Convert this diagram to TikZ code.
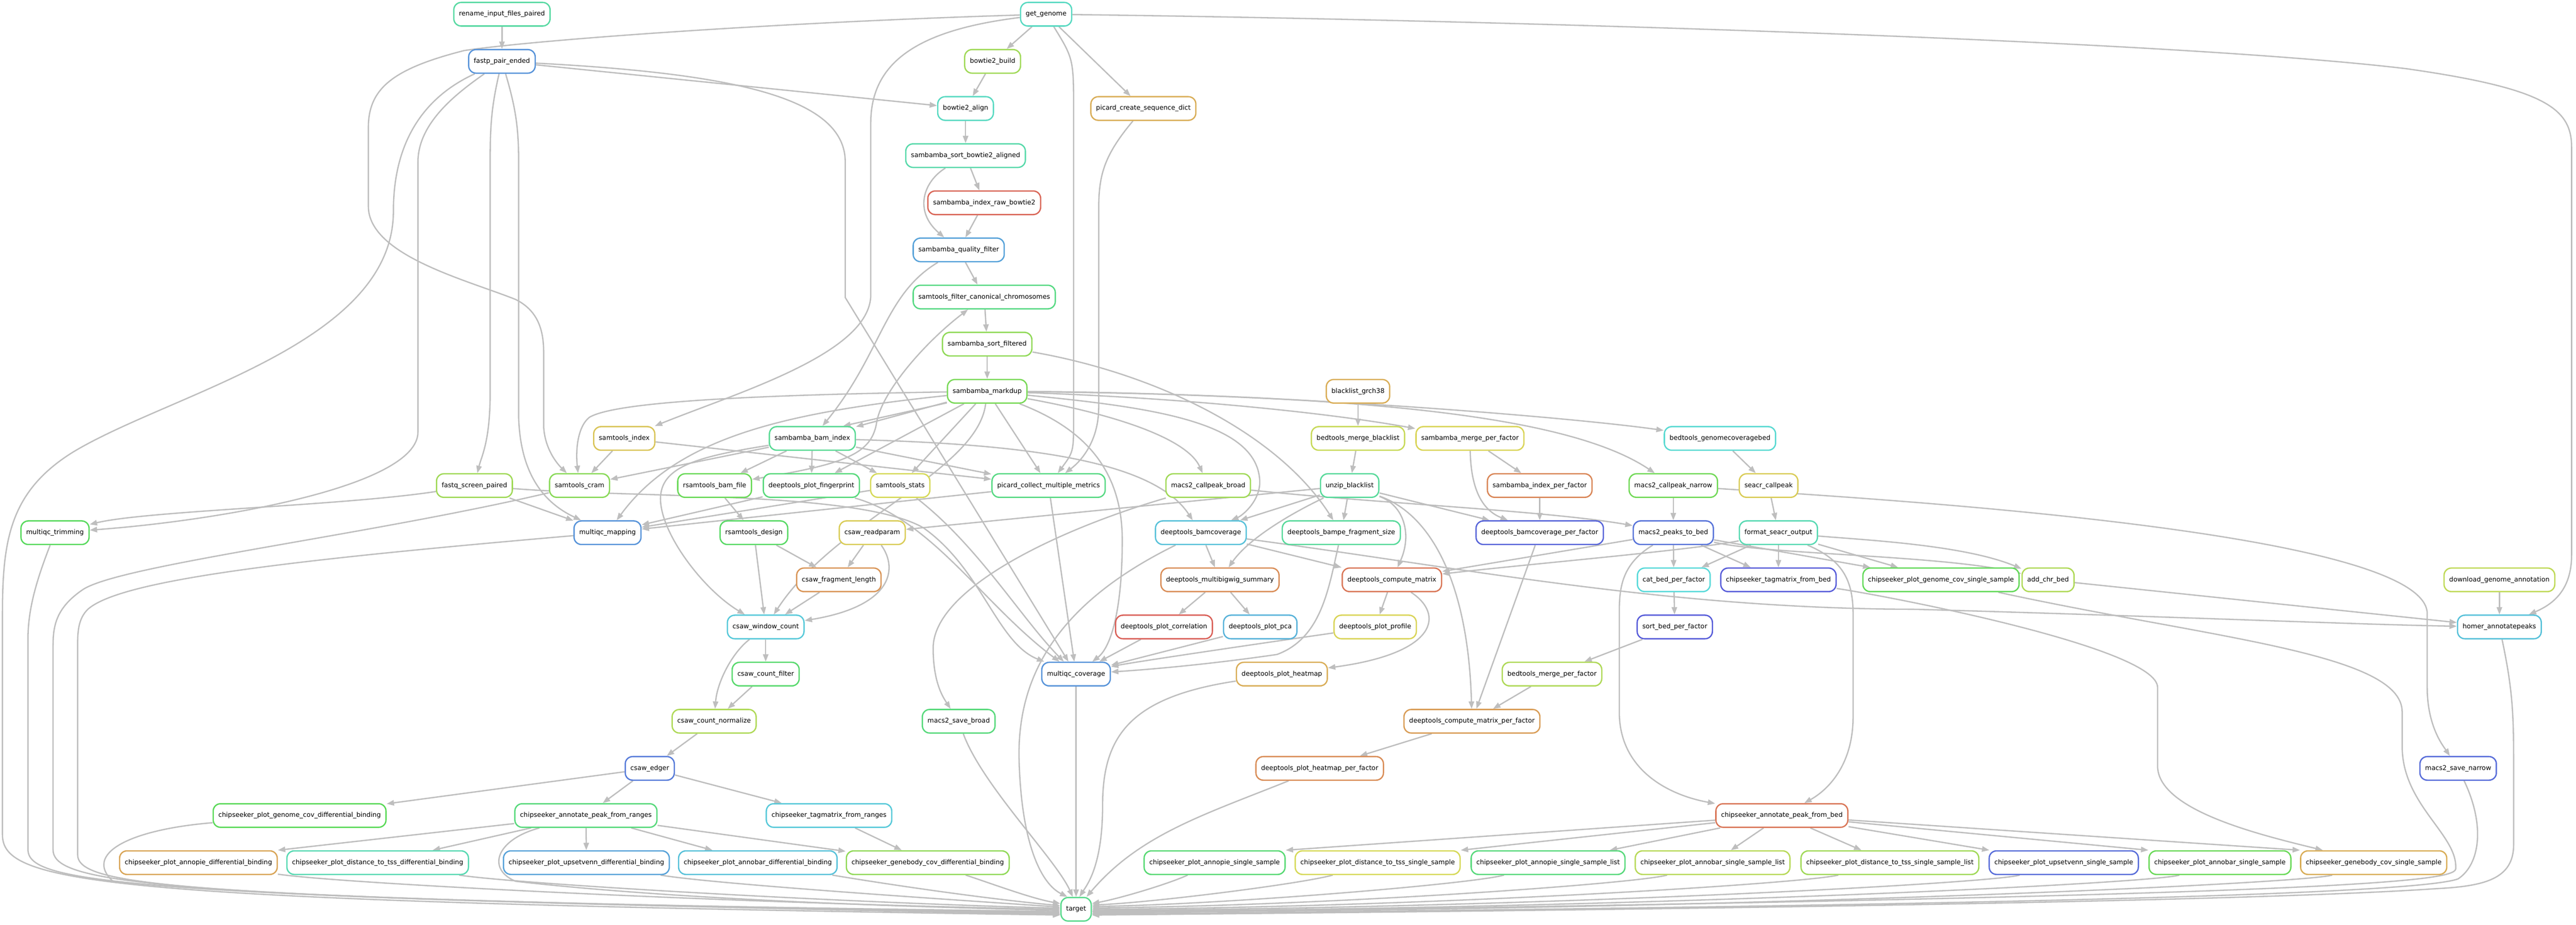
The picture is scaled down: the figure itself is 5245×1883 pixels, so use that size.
\documentclass[tikz,border=0pt]{standalone}
\usepackage{fontspec}
\setmainfont{DejaVu Sans}
\usetikzlibrary{arrows.meta}
\pgfdeclarelayer{bgl}
\pgfdeclarelayer{edl}
\pgfsetlayers{bgl,edl,main}
\definecolor{edgegrey}{RGB}{190,190,190}
\tikzset{
  rb/.style={line width=0.76pt, rounded corners=0.15cm, fill=white, minimum height=0.48cm,
    inner xsep=0.1056cm, inner ysep=0pt, font=\fontsize{3.79pt}{4.5pt}\selectfont, text=black},
  conn/.style={draw=edgegrey, line width=0.76pt, arrows={-Triangle[length=0.15cm,width=0.11cm]}},
  tipboth/.style={draw=edgegrey, line width=0.76pt, arrows={Triangle[length=0.15cm,width=0.11cm]-Triangle[length=0.15cm,width=0.11cm]}}
}
\newcommand{\mknode}[5]{\convertcolorspec{hsb}{#2,0.6,0.85}{rgb}\mkcolspec\definecolor{col#1}{rgb}{\mkcolspec}\node[rb, draw=col#1] (#1) at (#3,#4) {#5};}
\begin{document}
\begin{tikzpicture}[x=0.01cm, y=-0.01cm]
\useasboundingbox (0,0) rectangle (5245,1883);
\begin{pgfonlayer}{bgl}\fill[white] (0,0) rectangle (5245,1883);\end{pgfonlayer}
% row 0-9
\mknode{ren}{0.43}{1022}{29}{rename\_input\_files\_paired}
\mknode{gg}{0.47}{2130}{29}{get\_genome}
\mknode{fastp}{0.59}{1022}{125}{fastp\_pair\_ended}
\mknode{btb}{0.24}{2021}{125}{bowtie2\_build}
\mknode{bta}{0.47}{1966}{221}{bowtie2\_align}
\mknode{pcsd}{0.11}{2328}{221}{picard\_create\_sequence\_dict}
\mknode{ssba}{0.44}{1966}{317}{sambamba\_sort\_bowtie2\_aligned}
\mknode{sirb}{0.02}{2004}{413}{sambamba\_index\_raw\_bowtie2}
\mknode{sqf}{0.57}{1952}{509}{sambamba\_quality\_filter}
\mknode{sfcc}{0.39}{2004}{605}{samtools\_filter\_canonical\_chromosomes}
\mknode{ssf}{0.26}{2010}{701}{sambamba\_sort\_filtered}
\mknode{smd}{0.29}{2010}{797}{sambamba\_markdup}
\mknode{blg}{0.11}{2765}{797}{blacklist\_grch38}
\mknode{sti}{0.14}{1271}{893}{samtools\_index}
\mknode{sbi}{0.41}{1654}{893}{sambamba\_bam\_index}
\mknode{bmb}{0.19}{2765}{893}{bedtools\_merge\_blacklist}
\mknode{smpf}{0.16}{2993}{893}{sambamba\_merge\_per\_factor}
\mknode{bgc}{0.49}{3502}{893}{bedtools\_genomecoveragebed}
% row 10
\mknode{fqs}{0.24}{966}{989}{fastq\_screen\_paired}
\mknode{scram}{0.27}{1180}{989}{samtools\_cram}
\mknode{rbf}{0.31}{1455}{989}{rsamtools\_bam\_file}
\mknode{dpf}{0.38}{1652}{989}{deeptools\_plot\_fingerprint}
\mknode{sst}{0.17}{1833}{989}{samtools\_stats}
\mknode{pcmm}{0.39}{2135}{989}{picard\_collect\_multiple\_metrics}
\mknode{mcb}{0.24}{2460}{989}{macs2\_callpeak\_broad}
\mknode{unz}{0.42}{2748}{989}{unzip\_blacklist}
\mknode{sipf}{0.06}{3135}{989}{sambamba\_index\_per\_factor}
\mknode{mcn}{0.30}{3407}{989}{macs2\_callpeak\_narrow}
\mknode{seacr}{0.15}{3601}{989}{seacr\_callpeak}
% row 11
\mknode{mqt}{0.34}{112}{1085}{multiqc\_trimming}
\mknode{mqm}{0.59}{1237}{1085}{multiqc\_mapping}
\mknode{rsd}{0.35}{1535}{1085}{rsamtools\_design}
\mknode{crp}{0.15}{1776}{1085}{csaw\_readparam}
\mknode{dbc}{0.53}{2445}{1085}{deeptools\_bamcoverage}
\mknode{dbfs}{0.42}{2731}{1085}{deeptools\_bampe\_fragment\_size}
\mknode{dbcpf}{0.65}{3135}{1085}{deeptools\_bamcoverage\_per\_factor}
\mknode{mpb}{0.63}{3407}{1085}{macs2\_peaks\_to\_bed}
\mknode{fso}{0.45}{3621}{1085}{format\_seacr\_output}
% row 12
\mknode{cfl}{0.08}{1708}{1181}{csaw\_fragment\_length}
\mknode{dms}{0.07}{2484}{1181}{deeptools\_multibigwig\_summary}
\mknode{dcm}{0.04}{2834}{1181}{deeptools\_compute\_matrix}
\mknode{cbpf}{0.50}{3408}{1181}{cat\_bed\_per\_factor}
\mknode{ctfb}{0.66}{3621}{1181}{chipseeker\_tagmatrix\_from\_bed}
\mknode{cpgs}{0.32}{3952}{1181}{chipseeker\_plot\_genome\_cov\_single\_sample}
\mknode{acb}{0.22}{4170}{1181}{add\_chr\_bed}
\mknode{dga}{0.20}{5089}{1181}{download\_genome\_annotation}
% row 13
\mknode{cwc}{0.52}{1559}{1277}{csaw\_window\_count}
\mknode{dpc}{0.01}{2370}{1277}{deeptools\_plot\_correlation}
\mknode{dpp}{0.55}{2566}{1277}{deeptools\_plot\_pca}
\mknode{dppr}{0.16}{2800}{1277}{deeptools\_plot\_profile}
\mknode{sbpf}{0.66}{3410}{1277}{sort\_bed\_per\_factor}
\mknode{homer}{0.53}{5089}{1277}{homer\_annotatepeaks}
% row 14
\mknode{ccf}{0.36}{1559}{1373}{csaw\_count\_filter}
\mknode{mqc}{0.59}{2191}{1373}{multiqc\_coverage}
\mknode{dph}{0.11}{2610}{1373}{deeptools\_plot\_heatmap}
\mknode{bmpf}{0.22}{3160}{1373}{bedtools\_merge\_per\_factor}
% row 15
\mknode{ccn}{0.22}{1454}{1469}{csaw\_count\_normalize}
\mknode{msb}{0.38}{1952}{1469}{macs2\_save\_broad}
\mknode{dcmpf}{0.09}{2997}{1469}{deeptools\_compute\_matrix\_per\_factor}
% row 16
\mknode{ce}{0.62}{1323}{1565}{csaw\_edger}
\mknode{dphpf}{0.07}{2687}{1565}{deeptools\_plot\_heatmap\_per\_factor}
\mknode{msn}{0.64}{5005}{1565}{macs2\_save\_narrow}
% row 17
\mknode{cpgd}{0.33}{610}{1661}{chipseeker\_plot\_genome\_cov\_differential\_binding}
\mknode{capr}{0.38}{1193}{1661}{chipseeker\_annotate\_peak\_from\_ranges}
\mknode{ctfr}{0.52}{1688}{1661}{chipseeker\_tagmatrix\_from\_ranges}
\mknode{capb}{0.04}{3628}{1661}{chipseeker\_annotate\_peak\_from\_bed}
% row 18
\mknode{cpad}{0.10}{404}{1757}{chipseeker\_plot\_annopie\_differential\_binding}
\mknode{cpdd}{0.45}{769}{1757}{chipseeker\_plot\_distance\_to\_tss\_differential\_binding}
\mknode{cpud}{0.57}{1194}{1757}{chipseeker\_plot\_upsetvenn\_differential\_binding}
\mknode{cpbd}{0.53}{1543}{1757}{chipseeker\_plot\_annobar\_differential\_binding}
\mknode{cgd}{0.26}{1889}{1757}{chipseeker\_genebody\_cov\_differential\_binding}
\mknode{cpas}{0.37}{2473}{1757}{chipseeker\_plot\_annopie\_single\_sample}
\mknode{cpds}{0.17}{2805}{1757}{chipseeker\_plot\_distance\_to\_tss\_single\_sample}
\mknode{cpasl}{0.38}{3152}{1757}{chipseeker\_plot\_annopie\_single\_sample\_list}
\mknode{cpbsl}{0.21}{3487}{1757}{chipseeker\_plot\_annobar\_single\_sample\_list}
\mknode{cpdsl}{0.24}{3848}{1757}{chipseeker\_plot\_distance\_to\_tss\_single\_sample\_list}
\mknode{cpus}{0.64}{4202}{1757}{chipseeker\_plot\_upsetvenn\_single\_sample}
\mknode{cpbs}{0.31}{4520}{1757}{chipseeker\_plot\_annobar\_single\_sample}
\mknode{cgs}{0.11}{4833}{1757}{chipseeker\_genebody\_cov\_single\_sample}
% row 19
\mknode{tgt}{0.40}{2191}{1852}{target}

\begin{pgfonlayer}{edl}
% top part
\draw[conn] (ren) -- (fastp);
\draw[conn] (gg) -- (btb);
\draw[conn] (gg) -- (pcsd);
\draw[conn] (gg) .. controls (1880,60) and (1773,120) .. (1773,250) -- (1773,600) .. controls (1773,720) and (1500,800) .. (sti);
\draw[conn] (gg) .. controls (1600,45) and (1100,80) .. (945,103) .. controls (800,140) and (750,180) .. (750,260) -- (750,420) .. controls (750,520) and (950,570) .. (1050,610) .. controls (1100,635) and (1107,680) .. (1107,720) -- (1107,870) .. controls (1110,920) and (1140,950) .. (scram);
\draw[conn] (gg) .. controls (2186,120) .. (2186,230) -- (2186,850) .. controls (2186,920) .. (pcmm);
\draw[conn] (gg) .. controls (3000,40) and (4400,80) .. (4900,140) .. controls (5180,180) and (5236,220) .. (5236,300) -- (5236,1130) .. controls (5236,1200) and (5200,1230) .. (homer);
\draw[conn] (fastp) -- (bta);
\draw[conn] (fastp) .. controls (1500,150) and (1721,200) .. (1721,330) -- (1721,606) -- (mqc);
\draw[conn] (fastp) .. controls (1000,220) and (998,260) .. (998,330) -- (998,800) .. controls (998,900) and (980,930) .. (fqs);
\draw[conn] (fastp) .. controls (1050,220) and (1056,260) .. (1056,330) -- (1056,850) .. controls (1060,980) and (1120,1030) .. (mqm);
\draw[conn] (fastp) .. controls (930,190) and (851,250) .. (851,330) -- (851,880) .. controls (851,990) and (450,1060) .. (mqt);
\draw[conn] (fastp) .. controls (880,190) and (801,270) .. (801,430) .. controls (801,700) and (350,800) .. (150,920) .. controls (20,1000) and (5,1100) .. (5,1250) -- (5,1700) .. controls (5,1800) and (200,1835) .. (tgt.200);
\draw[conn] (btb) -- (bta);
\draw[conn] (bta) -- (ssba);
\draw[conn] (ssba) -- (sirb);
\draw[conn] (ssba) .. controls (1880,370) and (1860,430) .. (sqf);
\draw[conn] (sirb) -- (sqf);
\draw[conn] (sqf) -- (sfcc);
\draw[conn] (sqf) .. controls (1800,600) and (1795,720) .. (sbi);
\draw[conn] (sfcc) -- (ssf);
\draw[conn] (ssf) -- (smd);
\draw[conn] (ssf) .. controls (2350,760) and (2600,880) .. (dbfs);
\draw[tipboth] (rbf) .. controls (1720,945) and (1775,925) .. (1785,860) .. controls (1795,800) and (1880,700) .. (sfcc);
\draw[conn] (pcsd) .. controls (2245,320) and (2237,360) .. (2237,430) -- (2237,830) .. controls (2237,900) and (2200,940) .. (pcmm);
% markdup
\draw[conn] (smd) .. controls (1500,805) and (1250,820) .. (1200,850) .. controls (1175,870) and (1172,920) .. (scram);
\draw[conn] (smd) -- (sbi);
\draw[conn] (smd.196) -- (sbi.22);
\draw[conn] (smd) .. controls (1600,840) and (1380,890) .. (mqm);
\draw[conn] (smd) -- (dpf);
\draw[conn] (smd) -- (sst);
\draw[conn] (smd) .. controls (1990,960) and (1700,1060) .. (cwc);
\draw[conn] (smd) -- (pcmm);
\draw[conn] (smd) .. controls (2300,850) and (2420,900) .. (mcb);
\draw[conn] (smd) .. controls (2350,830) and (2560,860) .. (2565,980) .. controls (2566,1020) and (2530,1050) .. (dbc);
\draw[conn] (smd) .. controls (2200,870) and (2285,950) .. (2285,1100) .. controls (2285,1250) and (2260,1320) .. (mqc);
\draw[conn] (smd) .. controls (2400,810) and (2700,840) .. (smpf);
\draw[conn] (smd) .. controls (2600,800) and (3200,850) .. (bgc);
\draw[conn] (smd) .. controls (2800,805) and (3200,850) .. (mcn);
% row 8-9
\draw[conn] (blg) -- (bmb);
\draw[conn] (bmb) -- (unz);
\draw[conn] (smpf) -- (sipf);
\draw[conn] (smpf) .. controls (2995,1000) and (3020,1040) .. (dbcpf);
\draw[conn] (sipf) -- (dbcpf);
\draw[conn] (bgc) -- (seacr);
\draw[conn] (sti) -- (scram);
\draw[conn] (sti) -- (pcmm);
\draw[conn] (sbi) -- (scram);
\draw[conn] (sbi) -- (rbf);
\draw[conn] (sbi) -- (dpf);
\draw[conn] (sbi) -- (sst);
\draw[conn] (sbi) -- (pcmm);
\draw[conn] (sbi) .. controls (2100,905) and (2350,940) .. (dbc);
\draw[conn] (sbi) .. controls (1420,930) and (1350,950) .. (1345,1010) .. controls (1340,1080) and (1430,1200) .. (cwc);
% row 10
\draw[conn] (fqs) .. controls (700,1030) and (300,1040) .. (mqt);
\draw[conn] (fqs) -- (mqm);
\draw[conn] (fqs) .. controls (1300,1015) and (1750,1000) .. (1880,1075) .. controls (2000,1160) and (2030,1310) .. (mqc);
\draw[conn] (scram) .. controls (750,1090) and (250,1150) .. (170,1200) .. controls (110,1240) and (108,1280) .. (108,1320) -- (108,1730) .. controls (108,1800) and (300,1830) .. (tgt.195);
\draw[conn] (mqt) .. controls (75,1180) and (57,1240) .. (57,1300) -- (57,1730) .. controls (57,1800) and (250,1825) .. (tgt.198);
\draw[conn] (mqm) .. controls (600,1140) and (250,1180) .. (180,1240) .. controls (158,1260) and (158,1290) .. (158,1320) -- (158,1740) .. controls (158,1805) and (350,1830) .. (tgt.192);
\draw[conn] (mcb) .. controls (2150,1080) and (1900,1200) .. (1900,1320) .. controls (1900,1390) and (1920,1420) .. (msb);
\draw[conn] (mcb) .. controls (2800,1025) and (3150,1040) .. (mpb);
\draw[conn] (unz) -- (crp);
\draw[conn] (unz) -- (dbc);
\draw[conn] (unz) .. controls (2620,1050) and (2540,1100) .. (dms);
\draw[conn] (unz) -- (dbfs);
\draw[conn] (unz) -- (dbcpf);
\draw[conn] (unz) .. controls (2860,1030) and (2875,1090) .. (dcm);
\draw[conn] (unz) .. controls (2920,1050) and (2990,1200) .. (dcmpf);
\draw[conn] (rbf) -- (rsd);
\draw[conn] (pcmm) -- (mqm);
\draw[conn] (pcmm) -- (mqc);
\draw[conn] (sst) -- (mqm);
\draw[conn] (sst) .. controls (1990,1110) and (2080,1260) .. (mqc);
\draw[conn] (dpf) -- (mqm);
\draw[conn] (dpf) .. controls (1900,1060) and (2000,1230) .. (mqc);
\draw[conn] (mcn) -- (mpb);
\draw[conn] (mcn) .. controls (3800,1015) and (4942,1080) .. (4942,1250) -- (4942,1400) .. controls (4942,1480) and (4975,1520) .. (msn);
\draw[conn] (seacr) -- (fso);
% row 11
\draw[conn] (rsd) -- (cfl);
\draw[conn] (rsd) -- (cwc);
\draw[conn] (crp) -- (cfl);
\draw[conn] (crp) .. controls (1830,1160) and (1815,1235) .. (cwc);
\draw[conn] (dbc) -- (dms);
\draw[conn] (dbc) -- (dcm);
\draw[conn] (dbc) .. controls (3000,1160) and (3400,1240) .. (3900,1241) .. controls (4400,1255) and (4800,1272) .. (homer);
\draw[conn] (dbc) .. controls (2150,1230) and (2070,1380) .. (2075,1550) .. controls (2080,1720) and (2120,1800) .. (tgt.125);
\draw[conn] (dbfs) .. controls (2705,1200) and (2690,1300) .. (2600,1333) .. controls (2450,1355) and (2320,1365) .. (mqc);
\draw[conn] (dbcpf) -- (dcmpf);
\draw[conn] (mpb) -- (dcm);
\draw[conn] (mpb) -- (cbpf);
\draw[conn] (mpb) -- (ctfb);
\draw[conn] (mpb) .. controls (3300,1150) and (3297,1200) .. (3297,1250) -- (3297,1450) .. controls (3297,1570) and (3400,1620) .. (capb);
\draw[conn] (mpb) -- (cpgs);
\draw[conn] (mpb) .. controls (3600,1130) and (3950,1130) .. (acb);
\draw[conn] (fso) .. controls (3450,1120) and (3100,1150) .. (dcm);
\draw[conn] (fso) -- (cbpf);
\draw[conn] (fso) -- (ctfb);
\draw[conn] (fso) -- (cpgs);
\draw[conn] (fso) .. controls (3800,1100) and (4000,1110) .. (acb);
\draw[conn] (fso) .. controls (3750,1140) and (3773,1180) .. (3773,1250) -- (3773,1460) .. controls (3773,1560) and (3720,1610) .. (capb);
% row 12
\draw[conn] (cfl) -- (cwc);
\draw[conn] (dms) -- (dpc);
\draw[conn] (dms) -- (dpp);
\draw[conn] (dcm) -- (dppr);
\draw[conn] (dcm) .. controls (2940,1250) and (2930,1330) .. (dph);
\draw[conn] (cbpf) -- (sbpf);
\draw[conn] (ctfb) .. controls (3850,1215) and (4393,1320) .. (4393,1400) -- (4393,1560) .. controls (4393,1650) and (4600,1700) .. (cgs);
\draw[conn] (cpgs) .. controls (4500,1300) and (4891,1330) .. (4891,1450) -- (4891,1520) .. controls (4891,1640) and (5005,1700) .. (5000,1770) .. controls (4995,1795) and (4800,1825) .. (tgt.-14);
\draw[conn] (acb) -- (homer);
\draw[conn] (dga) -- (homer);
% row 13
\draw[conn] (cwc) -- (ccf);
\draw[conn] (cwc) .. controls (1490,1330) and (1460,1390) .. (ccn);
\draw[conn] (dpc) -- (mqc);
\draw[conn] (dpp) -- (mqc);
\draw[conn] (dppr) .. controls (2500,1320) and (2300,1350) .. (mqc);
\draw[conn] (sbpf) -- (bmpf);
\draw[conn] (homer) .. controls (5115,1400) and (5118,1450) .. (5118,1550) -- (5118,1720) .. controls (5118,1790) and (5060,1805) .. (4960,1810) .. controls (4600,1835) and (3500,1852) .. (tgt.-20);
% row 14
\draw[conn] (ccf) -- (ccn);
\draw[conn] (mqc) -- (tgt);
\draw[conn] (dph) .. controls (2300,1420) and (2245,1500) .. (2245,1640) .. controls (2245,1760) and (2215,1800) .. (tgt.75);
\draw[conn] (bmpf) -- (dcmpf);
% row 15
\draw[conn] (ccn) -- (ce);
\draw[conn] (msb) .. controls (2000,1600) and (2150,1750) .. (tgt.105);
\draw[conn] (dcmpf) -- (dphpf);
% row 16
\draw[conn] (ce) -- (cpgd);
\draw[conn] (ce) -- (capr);
\draw[conn] (ce) -- (ctfr);
\draw[conn] (dphpf) .. controls (2450,1660) and (2320,1700) .. (tgt.50);
\draw[conn] (msn) .. controls (5060,1680) and (5050,1760) .. (5005,1790) .. controls (4900,1830) and (3500,1850) .. (tgt.-17);
% row 17
\draw[conn] (cpgd) .. controls (260,1690) and (170,1740) .. (230,1795) .. controls (600,1835) and (1500,1848) .. (tgt.188);
\draw[conn] (capr) -- (cpad.north east);
\draw[conn] (capr) -- (cpdd);
\draw[conn] (capr) -- (cpud);
\draw[conn] (capr) -- (cpbd);
\draw[conn] (capr) -- (cgd);
\draw[conn] (capr) .. controls (1010,1710) and (990,1770) .. (1050,1795) .. controls (1400,1835) and (1900,1848) .. (tgt.184);
\draw[conn] (ctfr) -- (cgd);
\draw[conn] (capb) -- (cpas.north east);
\draw[conn] (capb) -- (cpds.north east);
\draw[conn] (capb) -- (cpasl);
\draw[conn] (capb) -- (cpbsl);
\draw[conn] (capb) -- (cpdsl);
\draw[conn] (capb) -- (cpus);
\draw[conn] (capb) -- (cpbs.north west);
\draw[conn] (capb) -- (cgs.north west);
% row 18 to target
\draw[conn] (cpad) .. controls (700,1800) and (1500,1840) .. (tgt.180);
\draw[conn] (cpdd) .. controls (1050,1800) and (1700,1838) .. (tgt.176);
\draw[conn] (cpud) .. controls (1450,1800) and (1900,1830) .. (tgt.172);
\draw[conn] (cpbd) .. controls (1800,1800) and (2000,1830) .. (tgt.167);
\draw[conn] (cgd) .. controls (2020,1800) and (2100,1830) .. (tgt.160);
\draw[conn] (cpas) .. controls (2380,1800) and (2280,1830) .. (tgt.20);
\draw[conn] (cpds) .. controls (2650,1800) and (2350,1838) .. (tgt.15);
\draw[conn] (cpasl) .. controls (3000,1800) and (2500,1842) .. (tgt.10);
\draw[conn] (cpbsl) .. controls (3330,1800) and (2700,1845) .. (tgt.5);
\draw[conn] (cpdsl) .. controls (3670,1800) and (2900,1848) .. (tgt.0);
\draw[conn] (cpus) .. controls (4050,1800) and (3100,1850) .. (tgt.-4);
\draw[conn] (cpbs) .. controls (4380,1800) and (3300,1852) .. (tgt.-7);
\draw[conn] (cgs) .. controls (4690,1800) and (3500,1855) .. (tgt.-10);
\end{pgfonlayer}
\end{tikzpicture}
\end{document}
